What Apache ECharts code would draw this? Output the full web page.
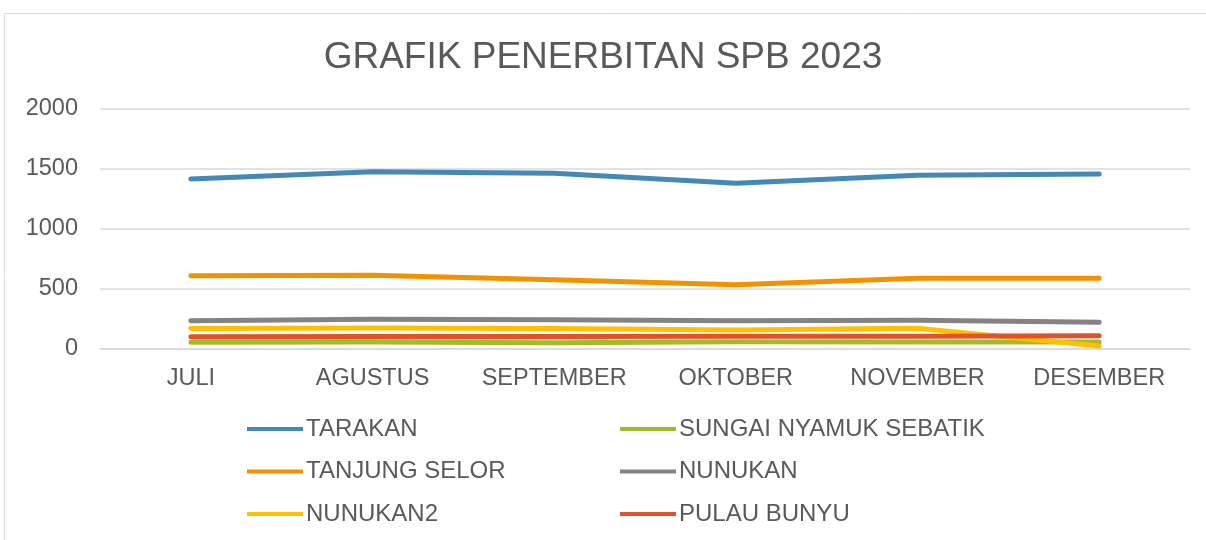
<!DOCTYPE html>
<html><head><meta charset="utf-8">
<script src="https://cdn.jsdelivr.net/npm/echarts@6/dist/echarts.min.js"></script>
<style>html,body{margin:0;padding:0;background:#fff}#c{width:1206px;height:540px}</style>
</head><body><div id="c"></div>
<script>
const categories = ['JULI','AGUSTUS','SEPTEMBER','OKTOBER','NOVEMBER','DESEMBER'];
const tarakan = [1417, 1478, 1464, 1381, 1447, 1458];
const sungaiNyamuk = [56, 58, 52, 60, 58, 59];
const tanjungSelor = [611, 614, 578, 536, 589, 589];
const nunukan = [235, 248, 244, 236, 240, 222];
const nunukan2 = [170, 174, 170, 158, 172, 25];
const pulauBunyu = [103, 105, 104, 106, 106, 111];
const yTicks = [0, 500, 1000, 1500, 2000];

const seriesDefs = [
  {name:'TARAKAN', data:tarakan, color:'#4388B6'},
  {name:'SUNGAI NYAMUK SEBATIK', data:sungaiNyamuk, color:'#A5B92B'},
  {name:'TANJUNG SELOR', data:tanjungSelor, color:'#F39200'},
  {name:'NUNUKAN', data:nunukan, color:'#838383'},
  {name:'NUNUKAN2', data:nunukan2, color:'#FFC000'},
  {name:'PULAU BUNYU', data:pulauBunyu, color:'#E0522A'}
];
const font = "'Liberation Sans', Arial, sans-serif";
const chart = echarts.init(document.getElementById('c'));
const legendCommon = {
  orient:'vertical', itemWidth:56, itemHeight:14, itemGap:18.5, padding:0,
  icon:'path://M0,5 L56,5 L56,9 L0,9 Z',
  textStyle:{fontFamily:font, fontSize:24, lineHeight:24, color:'#595959', padding:[0,0,0,-2]}
};
chart.setOption({
  animation:false,
  backgroundColor:'#fff',
  graphic:[{type:'rect', shape:{x:4.5,y:13.5,width:1210,height:540}, style:{fill:'none', stroke:'#d9d9d9', lineWidth:1}}],
  title:{text:'GRAFIK PENERBITAN SPB 2023', left:'center', top:34,
    textStyle:{fontFamily:font, fontSize:37, fontWeight:'normal', color:'#595959'}},
  grid:{left:100, right:16, top:109, bottom:191},
  xAxis:{type:'category', data:categories, boundaryGap:true,
    axisLine:{lineStyle:{color:'#d9d9d9', width:1.5}}, axisTick:{show:false},
    axisLabel:{fontFamily:font, fontSize:23.5, color:'#595959', margin:18, interval:0, hideOverlap:false}},
  yAxis:{type:'value', min:yTicks[0], max:yTicks[yTicks.length-1], interval:500,
    axisLine:{show:false}, axisTick:{show:false},
    splitLine:{lineStyle:{color:'#d9d9d9', width:1.5}},
    axisLabel:{fontFamily:font, fontSize:23.5, color:'#595959', margin:22, formatter:v => String(v)}},
  legend:[
    Object.assign({left:247, top:417, data:['TARAKAN','TANJUNG SELOR','NUNUKAN2']}, legendCommon),
    Object.assign({left:620, top:417, data:['SUNGAI NYAMUK SEBATIK','NUNUKAN','PULAU BUNYU']}, legendCommon)
  ],
  series: seriesDefs.map(s => ({
    name:s.name, type:'line', data:s.data, symbol:'none',
    color:s.color, itemStyle:{color:s.color},
    lineStyle:{color:s.color, width:5, cap:'round', join:'round'}
  }))
});
</script></body></html>
